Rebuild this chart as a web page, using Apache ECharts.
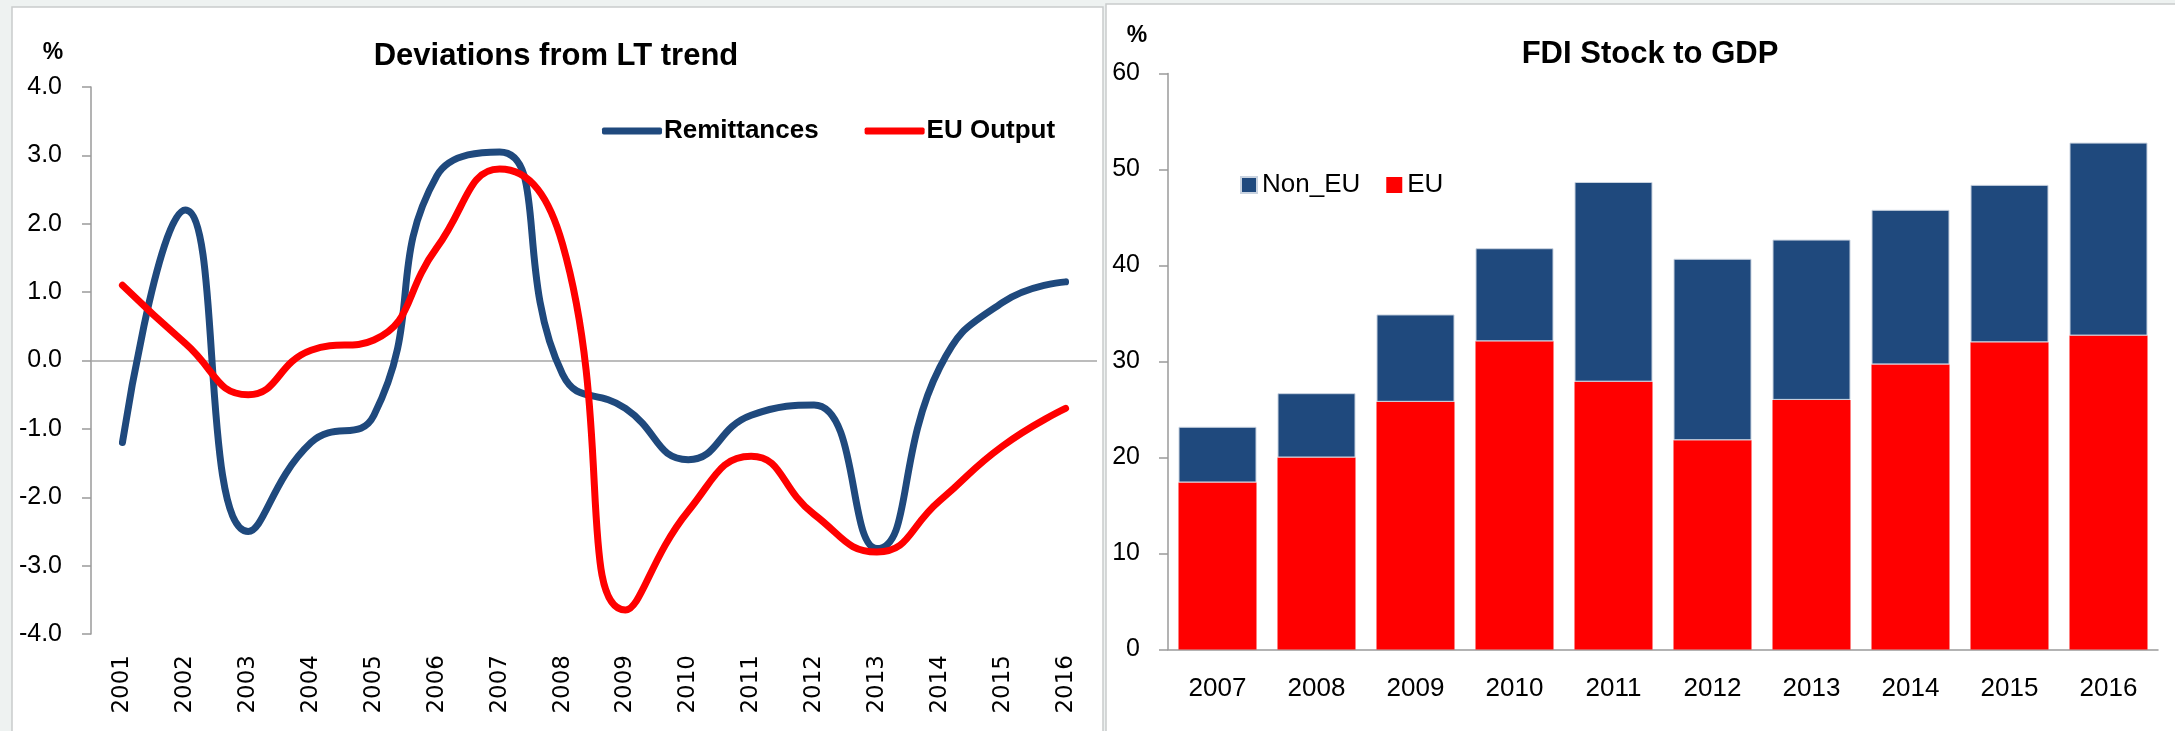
<!DOCTYPE html>
<html>
<head>
<meta charset="utf-8">
<script src="https://cdn.jsdelivr.net/npm/echarts@6/dist/echarts.min.js"></script>
<style>
html,body{margin:0;padding:0;background:#eef2f1;}
#c{width:2175px;height:731px;}
</style>
</head>
<body>
<div id="c"></div>
<script>
// Left chart: deviations from long-term trend (%)
const years = ['2001','2002','2003','2004','2005','2006','2007','2008','2009','2010','2011','2012','2013','2014','2015','2016'];
const remittances = [-1.2, 2.2, -2.5, -1.2, -0.8, 2.7, 3.05, -0.2, -0.7, -1.45, -0.8, -0.65, -2.75, -0.1, 0.85, 1.15];
const euOutput = [1.1, 0.25, -0.5, 0.15, 0.3, 1.65, 2.8, 1.7, -3.65, -2.2, -1.4, -2.25, -2.8, -2.05, -1.25, -0.7];
const leftTicks = [-4, -3, -2, -1, 0, 1, 2, 3, 4];

// Right chart: FDI stock to GDP (%)
const fdiYears = ['2007','2008','2009','2010','2011','2012','2013','2014','2015','2016'];
const fdiEU = [17.4, 20.0, 25.8, 32.1, 27.9, 21.8, 26.0, 29.7, 32.0, 32.7];
const fdiNonEU = [5.8, 6.7, 9.1, 9.7, 20.8, 18.9, 16.7, 16.1, 16.4, 20.1];
const rightTicks = [0, 10, 20, 30, 40, 50, 60];

const BLUE = '#1F497D';
const RED = '#FF0000';
const AXIS = '#9a9a9a';
const FONT = "'Liberation Sans', Arial, sans-serif";

const chart = echarts.init(document.getElementById('c'), null, {renderer: 'canvas'});

const option = {
  backgroundColor: 'transparent',
  animation: false,
  graphic: [
    {type: 'rect', shape: {x: 12, y: 7, width: 1091, height: 740}, style: {fill: '#ffffff', stroke: '#c9cccc', lineWidth: 1.5}, z: -10},
    {type: 'rect', shape: {x: 1106, y: 4, width: 1080, height: 740}, style: {fill: '#ffffff', stroke: '#c9cccc', lineWidth: 1.5}, z: -10},
    {type: 'text', x: 556, y: 56, style: {text: 'Deviations from LT trend', font: "bold 31px " + FONT, fill: '#000', textAlign: 'center', textVerticalAlign: 'middle'}},
    {type: 'text', x: 1650, y: 54, style: {text: 'FDI Stock to GDP', font: "bold 31px " + FONT, fill: '#000', textAlign: 'center', textVerticalAlign: 'middle'}},
    {type: 'text', x: 53, y: 53, style: {text: '%', font: "bold 23px " + FONT, fill: '#000', textAlign: 'center', textVerticalAlign: 'middle'}},
    {type: 'text', x: 1137, y: 36, style: {text: '%', font: "bold 23px " + FONT, fill: '#000', textAlign: 'center', textVerticalAlign: 'middle'}}
  ],
  legend: [
    {
      left: 597, top: 113,
      itemWidth: 60, itemHeight: 7, itemGap: 46, icon: 'roundRect',
      data: ['Remittances', 'EU Output'],
      textStyle: {fontFamily: FONT, fontSize: 26, fontWeight: 'bold', color: '#000', padding: [0, 0, 0, -3]}
    },
    {
      left: 1235, top: 167,
      itemWidth: 16, itemHeight: 16, itemGap: 26, icon: 'rect',
      data: ['Non_EU', 'EU'],
      textStyle: {fontFamily: FONT, fontSize: 26, color: '#000', padding: [0, 0, 0, 0]}
    }
  ],
  grid: [
    {left: 91, right: 1078, top: 87, bottom: 97, containLabel: false},
    {left: 1168, right: 17, top: 73.5, bottom: 81.5, containLabel: false}
  ],
  xAxis: [
    {
      type: 'category', gridIndex: 0, data: years, boundaryGap: true,
      axisLine: {show: false, onZero: false},
      axisTick: {show: false},
      axisLabel: {rotate: 90, margin: 21, fontFamily: "'DejaVu Sans', sans-serif", fontSize: 23, color: '#000'}
    },
    {
      type: 'category', gridIndex: 1, data: fdiYears, boundaryGap: true,
      axisLine: {show: true, lineStyle: {color: AXIS, width: 1.5}},
      axisTick: {show: false},
      axisLabel: {margin: 26, fontFamily: FONT, fontSize: 26, color: '#000'}
    }
  ],
  yAxis: [
    {
      type: 'value', gridIndex: 0, min: leftTicks[0], max: leftTicks[leftTicks.length - 1], interval: 1,
      axisLine: {show: true, lineStyle: {color: AXIS, width: 1.5}},
      axisTick: {show: true, length: 9, lineStyle: {color: AXIS, width: 1.5}},
      splitLine: {show: false},
      axisLabel: {margin: 29, fontFamily: FONT, fontSize: 25, color: '#000', formatter: v => v.toFixed(1)}
    },
    {
      type: 'value', gridIndex: 1, min: rightTicks[0], max: rightTicks[rightTicks.length - 1], interval: 10,
      axisLine: {show: true, lineStyle: {color: AXIS, width: 1.5}},
      axisTick: {show: true, length: 9, lineStyle: {color: AXIS, width: 1.5}},
      splitLine: {show: false},
      axisLabel: {margin: 28, fontFamily: FONT, fontSize: 25, color: '#000'}
    }
  ],
  series: [
    {
      name: 'Remittances', type: 'line', xAxisIndex: 0, yAxisIndex: 0, data: remittances,
      smooth: 0.5, symbol: 'none', z: 3,
      lineStyle: {color: BLUE, width: 7, cap: 'round', join: 'round'},
      itemStyle: {color: BLUE},
      markLine: {
        silent: true, symbol: 'none', label: {show: false},
        lineStyle: {color: '#a6a6a6', width: 1.5, type: 'solid'},
        data: [{yAxis: 0}], z: 1
      }
    },
    {
      name: 'EU Output', type: 'line', xAxisIndex: 0, yAxisIndex: 0, data: euOutput,
      smooth: 0.5, symbol: 'none', z: 4,
      lineStyle: {color: RED, width: 7, cap: 'round', join: 'round'},
      itemStyle: {color: RED}
    },
    {
      name: 'EU', type: 'bar', xAxisIndex: 1, yAxisIndex: 1, data: fdiEU, stack: 'fdi',
      barWidth: 78, itemStyle: {color: RED}
    },
    {
      name: 'Non_EU', type: 'bar', xAxisIndex: 1, yAxisIndex: 1, data: fdiNonEU, stack: 'fdi',
      barWidth: 78, itemStyle: {color: BLUE, borderColor: '#c9d3e0', borderWidth: 1}
    }
  ]
};
chart.setOption(option);
</script>
</body>
</html>
